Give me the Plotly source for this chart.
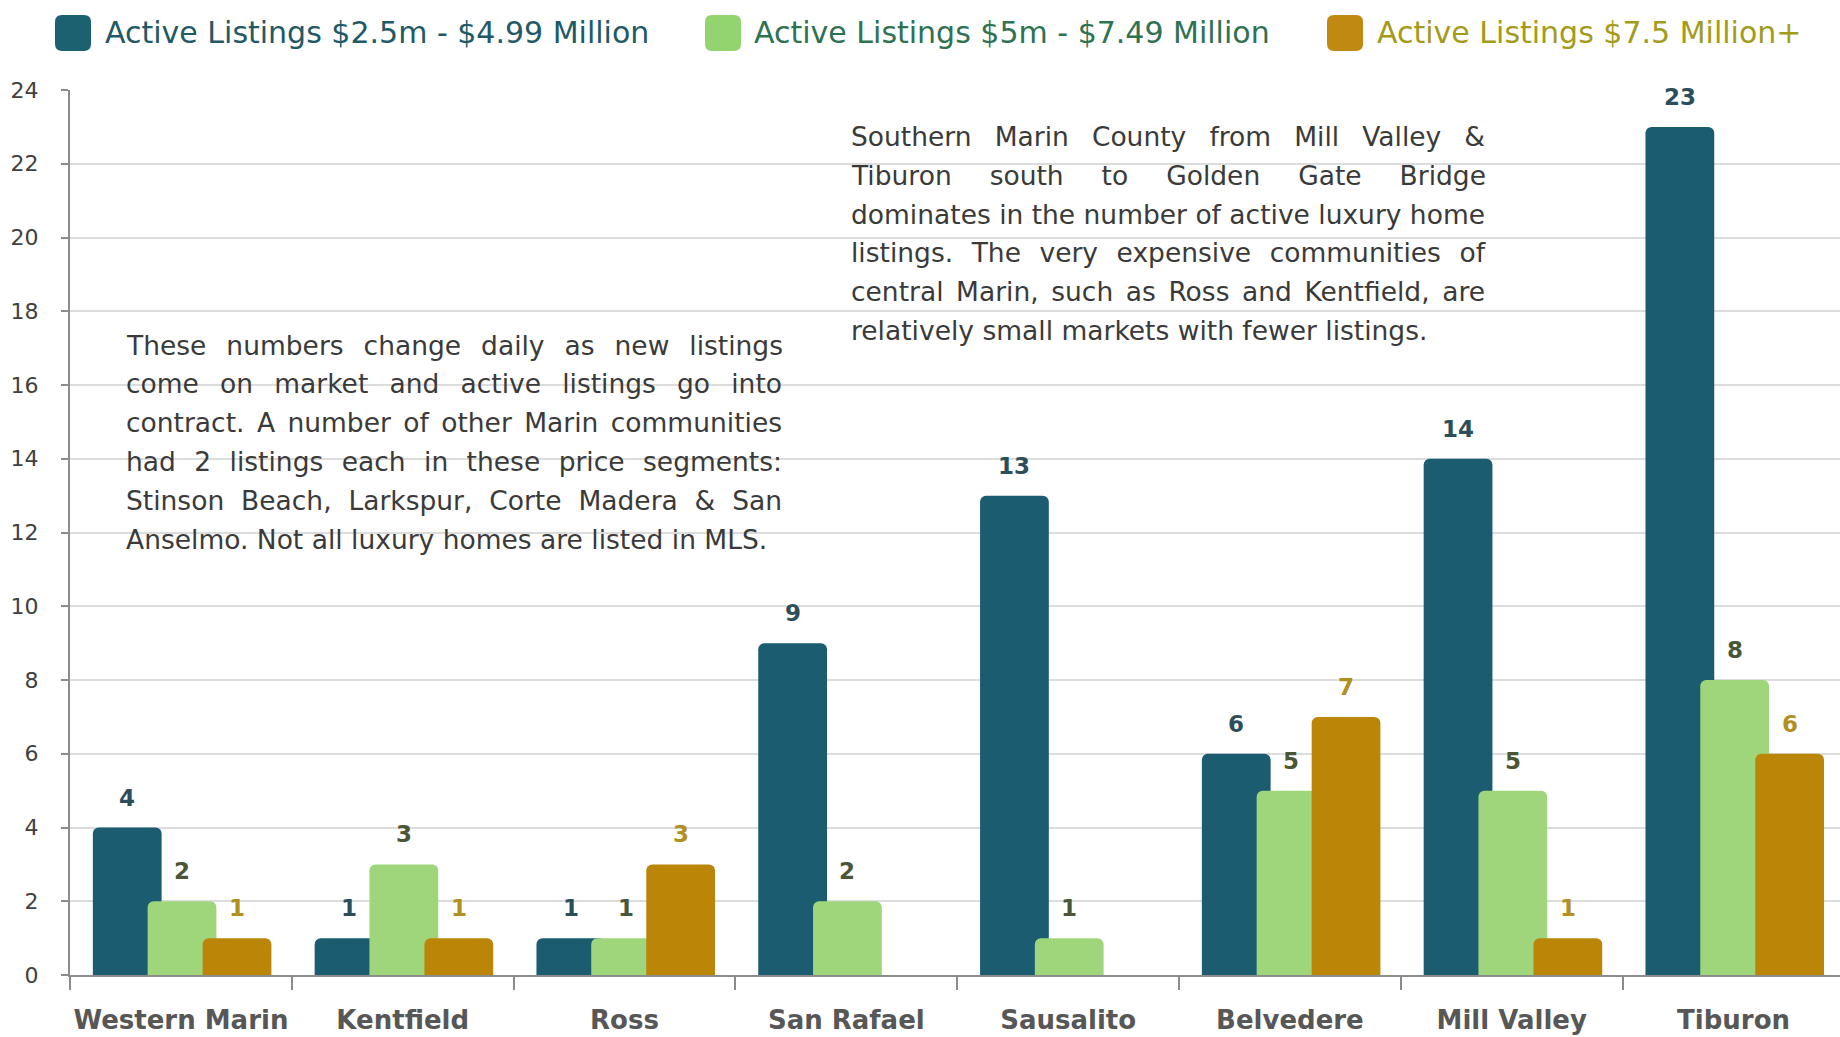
import json
import plotly.graph_objects as go

# ---------------- data ----------------
categories = ["Western Marin", "Kentfield", "Ross", "San Rafael",
              "Sausalito", "Belvedere", "Mill Valley", "Tiburon"]
series_names = ["Active Listings $2.5m - $4.99 Million",
                "Active Listings $5m - $7.49 Million",
                "Active Listings $7.5 Million+"]
listings_2_5m = [4, 1, 1, 9, 13, 6, 14, 23]
listings_5m = [2, 3, 1, 2, 1, 5, 5, 8]
listings_7_5m = [1, 1, 3, None, None, 7, 1, 6]
y_tick_values = list(range(0, 25, 2))

note_left_lines = [
    "These numbers change daily as new listings",
    "come on market and active listings go into",
    "contract. A number of other Marin communities",
    "had 2 listings each in these price segments:",
    "Stinson Beach, Larkspur, Corte Madera & San",
    "Anselmo. Not all luxury homes are listed in MLS.",
]
note_right_lines = [
    "Southern Marin County from Mill Valley &",
    "Tiburon south to Golden Gate Bridge",
    "dominates in the number of active luxury home",
    "listings. The very expensive communities of",
    "central Marin, such as Ross and Kentfield, are",
    "relatively small markets with fewer listings.",
]

# ---------------- styles ----------------
bar_colors = ["#1b5c71", "#a0d67b", "#bb8608"]
label_colors = ["#2c4e5b", "#4b5636", "#b0901e"]
legend_marker_colors = ["#1c6170", "#92d46e", "#c08a12"]
legend_text_colors = ["#225966", "#2f7153", "#a39b19"]
bar_offsets = [-0.397, -0.15, 0.098]
bar_width = 0.31
FONT = "DejaVu Sans"

FIG_W, FIG_H = 1840, 1037
L, R, T, B = 70, 1840, 90, 975
PW, PH = R - L, B - T


def px(x):
    return (x - L) / PW


def py(y):
    return (B - y) / PH


series_values = [listings_2_5m, listings_5m, listings_7_5m]

fig = go.Figure()
for name, vals, col, off in zip(series_names, series_values, bar_colors, bar_offsets):
    fig.add_trace(go.Bar(
        x=categories, y=vals, name=name,
        marker=dict(color=col, line=dict(width=0)),
        width=bar_width, offset=off, showlegend=False,
        hoverinfo="x+y+name",
    ))

annotations = []
shapes = []

# value labels above bars
for vals, off, lc in zip(series_values, bar_offsets, label_colors):
    for i, v in enumerate(vals):
        if v is None:
            continue
        annotations.append(dict(
            x=i + off + bar_width / 2, y=v, xref="x", yref="y",
            text=str(v), showarrow=False, yanchor="middle", yshift=30,
            font=dict(family=FONT, size=23, color=lc, weight="bold"),
        ))

# note boxes (white background hides gridlines)
for (x0, x1, y0, y1) in [(111, 798, 323, 557), (827, 1514, 111, 352)]:
    shapes.append(dict(type="rect", xref="paper", yref="paper",
                       x0=px(x0), x1=px(x1), y0=py(y1), y1=py(y0),
                       fillcolor="white", line=dict(width=0), layer="between"))

justify_targets = {}
note_specs = [
    (note_left_lines, 124, 656, 345, 38.9),
    (note_right_lines, 849, 634, 137, 38.6),
]
for lines, left, width, top, step in note_specs:
    for k, line in enumerate(lines):
        annotations.append(dict(
            x=px(left), y=py(top + k * step), xref="paper", yref="paper",
            text=line, showarrow=False, xanchor="left", yanchor="middle",
            align="left",
            font=dict(family=FONT, size=26.5, color="#3a3a3a"),
        ))
        if k < len(lines) - 1:
            justify_targets[line] = width

# custom legend
legend_marker_x = [55, 705, 1327]
legend_text_x = [103, 752, 1375]
legend_y = 33
msize = 36
rad = 7
for name, mx, tx, mc, tc in zip(series_names, legend_marker_x, legend_text_x,
                                legend_marker_colors, legend_text_colors):
    x0, x1 = mx, mx + msize
    y0, y1 = legend_y - msize / 2, legend_y + msize / 2
    path = (f"M {px(x0 + rad)},{py(y0)} L {px(x1 - rad)},{py(y0)} "
            f"Q {px(x1)},{py(y0)} {px(x1)},{py(y0 + rad)} "
            f"L {px(x1)},{py(y1 - rad)} Q {px(x1)},{py(y1)} {px(x1 - rad)},{py(y1)} "
            f"L {px(x0 + rad)},{py(y1)} Q {px(x0)},{py(y1)} {px(x0)},{py(y1 - rad)} "
            f"L {px(x0)},{py(y0 + rad)} Q {px(x0)},{py(y0)} {px(x0 + rad)},{py(y0)} Z")
    shapes.append(dict(type="path", xref="paper", yref="paper", path=path,
                       fillcolor=mc, line=dict(width=0), layer="above"))
    annotations.append(dict(
        x=px(tx), y=py(legend_y), xref="paper", yref="paper",
        text=name, showarrow=False, xanchor="left", yanchor="middle",
        font=dict(family=FONT, size=30, color=tc),
    ))

fig.update_layout(
    width=FIG_W, height=FIG_H,
    margin=dict(l=L, r=FIG_W - R, t=T, b=FIG_H - B, pad=0, autoexpand=False),
    paper_bgcolor="white", plot_bgcolor="white",
    barmode="overlay", barcornerradius=6,
    showlegend=False,
    font=dict(family=FONT, color="#404040"),
    annotations=annotations, shapes=shapes,
    xaxis=dict(
        type="category", range=[-0.5, 7.48], tickangle=0, automargin=False,
        showline=True, linecolor="#8c8c8c", linewidth=2,
        ticks="outside", tickson="boundaries", ticklen=13, tickwidth=2,
        tickcolor="#8c8c8c", showgrid=False, ticklabelstandoff=21,
        tickfont=dict(family=FONT, size=26, color="#575757", weight="bold"),
    ),
    yaxis=dict(
        range=[0, 24], tickvals=y_tick_values, automargin=False,
        showline=True, linecolor="#8c8c8c", linewidth=2,
        ticks="outside", ticklen=7, tickwidth=2, tickcolor="#8c8c8c",
        showgrid=True, gridcolor="#dcdcdc", gridwidth=2, zeroline=False,
        ticklabelstandoff=18,
        tickfont=dict(family=FONT, size=22, color="#404040"),
    ),
)

post_script = """
document.body.style.margin = '0';
var gd = document.getElementById('{plot_id}');
var T = %s;
function justifyNotes() {
  gd.querySelectorAll('text.annotation-text').forEach(function (t) {
    var s = t.textContent;
    if (Object.prototype.hasOwnProperty.call(T, s)) {
      var n = (s.match(/ /g) || []).length;
      t.style.wordSpacing = '0px';
      var w = t.getComputedTextLength();
      if (n > 0) { t.style.wordSpacing = ((T[s] - w) / n) + 'px'; }
    }
  });
}
justifyNotes();
if (document.fonts && document.fonts.ready) { document.fonts.ready.then(justifyNotes); }
""" % json.dumps(justify_targets)

fig.write_html("out.html", post_script=post_script,
               config={"displayModeBar": False})
